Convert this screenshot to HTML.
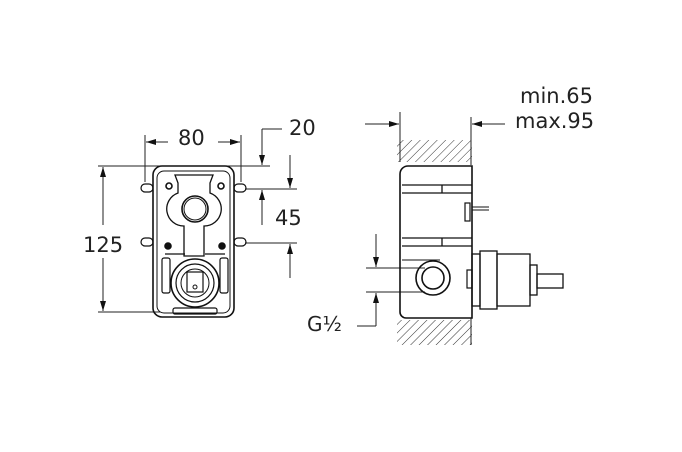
<!DOCTYPE html>
<html><head><style>
html,body{margin:0;padding:0;background:#fff;}
svg{display:block;}
text{font-family:"DejaVu Sans","Liberation Sans",sans-serif;fill:#222;}
</style></head><body>
<svg width="682" height="452" viewBox="0 0 682 452" xmlns="http://www.w3.org/2000/svg">
<defs>
<pattern id="h" width="6" height="6" patternUnits="userSpaceOnUse" patternTransform="rotate(45)">
<line x1="0" y1="0" x2="0" y2="6" stroke="#333" stroke-width="1"/>
</pattern>
<marker id="a" viewBox="0 0 10 6" refX="10" refY="3" markerWidth="10" markerHeight="6" orient="auto" markerUnits="userSpaceOnUse">
<path d="M0,0 L10,3 L0,6 z" fill="#111"/>
</marker>
</defs>
<g stroke="#222" stroke-width="1" fill="none">
<line x1="145" y1="135" x2="145" y2="182"/>
<line x1="241" y1="135" x2="241" y2="182"/>
<line x1="168" y1="142" x2="146" y2="142" marker-end="url(#a)"/>
<line x1="218" y1="142" x2="240" y2="142" marker-end="url(#a)"/>
<line x1="98" y1="166" x2="270" y2="166"/>
<line x1="262" y1="129" x2="282" y2="129"/>
<line x1="262" y1="129" x2="262" y2="165" marker-end="url(#a)"/>
<line x1="245" y1="189" x2="297" y2="189"/>
<line x1="245" y1="243" x2="297" y2="243"/>
<line x1="290" y1="155" x2="290" y2="188" marker-end="url(#a)"/>
<line x1="262" y1="225" x2="262" y2="190" marker-end="url(#a)"/>
<line x1="290" y1="278" x2="290" y2="244" marker-end="url(#a)"/>
<line x1="98" y1="312" x2="160" y2="312"/>
<line x1="103" y1="225" x2="103" y2="167" marker-end="url(#a)"/>
<line x1="103" y1="258" x2="103" y2="311" marker-end="url(#a)"/>
</g>
<g stroke="#111" stroke-width="1.6" fill="none">
<rect x="153" y="166" width="81" height="151" rx="9"/>
<rect x="157" y="171" width="73" height="142" rx="7" stroke-width="1"/>
<path d="M175,175 h38 l-3,8 v10 a17,17 0 0 1 -6,33 v30 h-20 v-30 a17,17 0 0 1 -6,-33 v-10z" stroke-width="1.3"/>
<circle cx="195" cy="209" r="13"/>
<circle cx="195" cy="209" r="11" stroke-width="1"/>
<circle cx="195" cy="283" r="24"/>
<circle cx="195" cy="283" r="19" stroke-width="1.2"/>
<circle cx="195" cy="283" r="14" stroke-width="1"/>
<rect x="187" y="272" width="16" height="20" stroke-width="1.2"/>
<circle cx="195" cy="287" r="2" stroke-width="1"/>
<rect x="162" y="258" width="8" height="35" rx="2" stroke-width="1.2"/>
<rect x="220" y="258" width="8" height="35" rx="2" stroke-width="1.2"/>
<path d="M165,254 h20 M205,254 h20" stroke-width="1.2"/>
<rect x="173" y="308" width="44" height="6" rx="2" stroke-width="1.2"/>
<circle cx="169" cy="186" r="3"/><circle cx="221" cy="186" r="3"/>
<circle cx="168" cy="246" r="3" fill="#111"/><circle cx="222" cy="246" r="3" fill="#111"/>
<rect x="141" y="184" width="12" height="8" rx="4" stroke-width="1.2"/>
<rect x="234" y="184" width="12" height="8" rx="4" stroke-width="1.2"/>
<rect x="141" y="238" width="12" height="8" rx="4" stroke-width="1.2"/>
<rect x="234" y="238" width="12" height="8" rx="4" stroke-width="1.2"/>
</g>
<text x="178" y="145" font-size="21">80</text>
<text x="289" y="135" font-size="21">20</text>
<text x="275" y="225" font-size="21">45</text>
<text x="83" y="252" font-size="21">125</text>
<rect x="397" y="140" width="75" height="22" fill="url(#h)"/>
<rect x="397" y="320" width="75" height="25" fill="url(#h)"/>
<g stroke="#222" stroke-width="1" fill="none">
<line x1="400" y1="112" x2="400" y2="162"/>
<line x1="471" y1="117" x2="471" y2="165"/>
<line x1="471" y1="318" x2="471" y2="345"/>
<line x1="365" y1="124" x2="399" y2="124" marker-end="url(#a)"/>
<line x1="505" y1="124" x2="472" y2="124" marker-end="url(#a)"/>
<line x1="366" y1="268" x2="425" y2="268"/>
<line x1="366" y1="292" x2="425" y2="292"/>
<line x1="376" y1="234" x2="376" y2="267" marker-end="url(#a)"/>
<line x1="376" y1="326" x2="376" y2="293" marker-end="url(#a)"/>
<line x1="357" y1="326" x2="376" y2="326"/>
</g>
<g stroke="#111" stroke-width="1.6" fill="none">
<path d="M472,166 H408 a8,8 0 0 0 -8,8 V312 a6,6 0 0 0 6,6 H472 Z"/>
<path d="M402,185 H472 M402,193 H472 M402,238 H472 M402,246 H472 M442,185 V193 M442,238 V246" stroke-width="1.3"/>
<path d="M402,260 H440" stroke-width="1"/>
<circle cx="433" cy="278" r="17"/>
<circle cx="433" cy="278" r="11"/>
<rect x="465" y="203" width="5" height="18" stroke-width="1.2"/>
<path d="M472,207 h17 M472,210 h17" stroke-width="1"/>
<rect x="467" y="270" width="5" height="18" stroke-width="1.2"/>
<rect x="472" y="254" width="8" height="52" stroke-width="1.3"/>
<rect x="480" y="251" width="17" height="58" stroke-width="1.3"/>
<rect x="497" y="254" width="33" height="52" stroke-width="1.3"/>
<rect x="530" y="265" width="7" height="30" stroke-width="1.3"/>
<rect x="537" y="274" width="26" height="14" stroke-width="1.3"/>
</g>
<text x="520" y="103" font-size="21">min.65</text>
<text x="515" y="128" font-size="21">max.95</text>
<text x="307" y="331" font-size="20">G½</text>
</svg>
</body></html>
